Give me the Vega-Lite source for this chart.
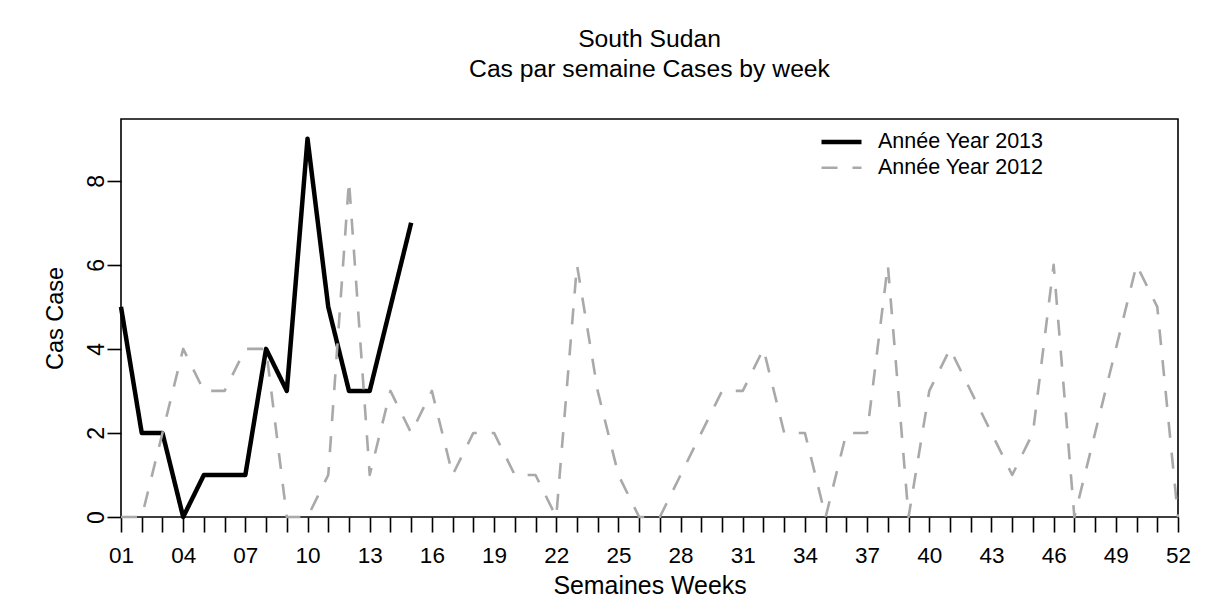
{
  "$schema": "https://vega.github.io/schema/vega-lite/v6.json",
  "autosize": "none",
  "width": 1057,
  "height": 398,
  "padding": {"left": 121, "top": 119, "right": 29, "bottom": 85},
  "background": "white",
  "title": {
    "text": ["South Sudan", "Cas par semaine Cases by week"],
    "font": "Liberation Sans",
    "fontSize": 24.7,
    "fontWeight": "normal",
    "color": "#000000",
    "lineHeight": 30,
    "anchor": "middle",
    "frame": "group",
    "baseline": "bottom",
    "offset": 12
  },
  "config": {
    "view": {"stroke": "#000000", "strokeWidth": 1.6},
    "font": "Liberation Sans"
  },
  "data": {
    "values": [
      {"week": 1, "cases": 5, "series": "Année Year 2013"},
      {"week": 2, "cases": 2, "series": "Année Year 2013"},
      {"week": 3, "cases": 2, "series": "Année Year 2013"},
      {"week": 4, "cases": 0, "series": "Année Year 2013"},
      {"week": 5, "cases": 1, "series": "Année Year 2013"},
      {"week": 6, "cases": 1, "series": "Année Year 2013"},
      {"week": 7, "cases": 1, "series": "Année Year 2013"},
      {"week": 8, "cases": 4, "series": "Année Year 2013"},
      {"week": 9, "cases": 3, "series": "Année Year 2013"},
      {"week": 10, "cases": 9, "series": "Année Year 2013"},
      {"week": 11, "cases": 5, "series": "Année Year 2013"},
      {"week": 12, "cases": 3, "series": "Année Year 2013"},
      {"week": 13, "cases": 3, "series": "Année Year 2013"},
      {"week": 14, "cases": 5, "series": "Année Year 2013"},
      {"week": 15, "cases": 7, "series": "Année Year 2013"},
      {"week": 1, "cases": 0, "series": "Année Year 2012"},
      {"week": 2, "cases": 0, "series": "Année Year 2012"},
      {"week": 3, "cases": 2, "series": "Année Year 2012"},
      {"week": 4, "cases": 4, "series": "Année Year 2012"},
      {"week": 5, "cases": 3, "series": "Année Year 2012"},
      {"week": 6, "cases": 3, "series": "Année Year 2012"},
      {"week": 7, "cases": 4, "series": "Année Year 2012"},
      {"week": 8, "cases": 4, "series": "Année Year 2012"},
      {"week": 9, "cases": 0, "series": "Année Year 2012"},
      {"week": 10, "cases": 0, "series": "Année Year 2012"},
      {"week": 11, "cases": 1, "series": "Année Year 2012"},
      {"week": 12, "cases": 8, "series": "Année Year 2012"},
      {"week": 13, "cases": 1, "series": "Année Year 2012"},
      {"week": 14, "cases": 3, "series": "Année Year 2012"},
      {"week": 15, "cases": 2, "series": "Année Year 2012"},
      {"week": 16, "cases": 3, "series": "Année Year 2012"},
      {"week": 17, "cases": 1, "series": "Année Year 2012"},
      {"week": 18, "cases": 2, "series": "Année Year 2012"},
      {"week": 19, "cases": 2, "series": "Année Year 2012"},
      {"week": 20, "cases": 1, "series": "Année Year 2012"},
      {"week": 21, "cases": 1, "series": "Année Year 2012"},
      {"week": 22, "cases": 0, "series": "Année Year 2012"},
      {"week": 23, "cases": 6, "series": "Année Year 2012"},
      {"week": 24, "cases": 3, "series": "Année Year 2012"},
      {"week": 25, "cases": 1, "series": "Année Year 2012"},
      {"week": 26, "cases": 0, "series": "Année Year 2012"},
      {"week": 27, "cases": 0, "series": "Année Year 2012"},
      {"week": 28, "cases": 1, "series": "Année Year 2012"},
      {"week": 29, "cases": 2, "series": "Année Year 2012"},
      {"week": 30, "cases": 3, "series": "Année Year 2012"},
      {"week": 31, "cases": 3, "series": "Année Year 2012"},
      {"week": 32, "cases": 4, "series": "Année Year 2012"},
      {"week": 33, "cases": 2, "series": "Année Year 2012"},
      {"week": 34, "cases": 2, "series": "Année Year 2012"},
      {"week": 35, "cases": 0, "series": "Année Year 2012"},
      {"week": 36, "cases": 2, "series": "Année Year 2012"},
      {"week": 37, "cases": 2, "series": "Année Year 2012"},
      {"week": 38, "cases": 6, "series": "Année Year 2012"},
      {"week": 39, "cases": 0, "series": "Année Year 2012"},
      {"week": 40, "cases": 3, "series": "Année Year 2012"},
      {"week": 41, "cases": 4, "series": "Année Year 2012"},
      {"week": 42, "cases": 3, "series": "Année Year 2012"},
      {"week": 43, "cases": 2, "series": "Année Year 2012"},
      {"week": 44, "cases": 1, "series": "Année Year 2012"},
      {"week": 45, "cases": 2, "series": "Année Year 2012"},
      {"week": 46, "cases": 6, "series": "Année Year 2012"},
      {"week": 47, "cases": 0, "series": "Année Year 2012"},
      {"week": 48, "cases": 2, "series": "Année Year 2012"},
      {"week": 49, "cases": 4, "series": "Année Year 2012"},
      {"week": 50, "cases": 6, "series": "Année Year 2012"},
      {"week": 51, "cases": 5, "series": "Année Year 2012"},
      {"week": 52, "cases": 0, "series": "Année Year 2012"}
    ]
  },
  "mark": {"type": "line", "strokeJoin": "round", "strokeCap": "butt"},
  "encoding": {
    "x": {
      "field": "week",
      "type": "quantitative",
      "scale": {"domain": [1, 52], "nice": false, "zero": false},
      "axis": {
        "values": [1,2,3,4,5,6,7,8,9,10,11,12,13,14,15,16,17,18,19,20,21,22,23,24,25,26,27,28,29,30,31,32,33,34,35,36,37,38,39,40,41,42,43,44,45,46,47,48,49,50,51,52],
        "labelExpr": "(datum.value - 1) % 3 == 0 ? (datum.value < 10 ? '0' + datum.value : '' + datum.value) : ''",
        "labelOverlap": false,
        "labelFlush": false,
        "labelBound": false,
        "grid": false,
        "domain": false,
        "tickSize": 15,
        "tickWidth": 1.6,
        "tickColor": "#000000",
        "labelFont": "Liberation Sans",
        "labelFontSize": 22.5,
        "labelColor": "#000000",
        "labelPadding": 12,
        "title": "Semaines Weeks",
        "titleFont": "Liberation Sans",
        "titleFontSize": 24.9,
        "titleFontWeight": "normal",
        "titleColor": "#000000",
        "titlePadding": 7
      }
    },
    "y": {
      "field": "cases",
      "type": "quantitative",
      "scale": {"domain": [0, 9.47], "nice": false, "zero": true},
      "axis": {
        "values": [0, 2, 4, 6, 8],
        "grid": false,
        "domain": false,
        "tickSize": 14,
        "tickWidth": 1.6,
        "tickColor": "#000000",
        "labelAngle": -90,
        "labelAlign": "center",
        "labelBaseline": "alphabetic",
        "labelFont": "Liberation Sans",
        "labelFontSize": 23,
        "labelColor": "#000000",
        "labelPadding": 4,
        "title": "Cas Case",
        "titleFont": "Liberation Sans",
        "titleFontSize": 23.5,
        "titleFontWeight": "normal",
        "titleColor": "#000000",
        "titlePadding": 18
      }
    },
    "color": {
      "field": "series",
      "type": "nominal",
      "scale": {"domain": ["Année Year 2013", "Année Year 2012"], "range": ["#000000", "#a9a9a9"]},
      "legend": {
        "title": null,
        "orient": "none",
        "legendX": 708,
        "legendY": 10.5,
        "padding": 0,
        "symbolType": "M-2,0H2",
        "symbolSize": 400,
        "labelFont": "Liberation Sans",
        "labelFontSize": 21.5,
        "labelColor": "#000000",
        "labelOffset": 24,
        "labelLimit": 400,
        "rowPadding": 3.7
      }
    },
    "strokeDash": {
      "field": "series",
      "type": "nominal",
      "scale": {"domain": ["Année Year 2013", "Année Year 2012"], "range": [[1, 0], [16, 15]]},
      "legend": {
        "title": null,
        "orient": "none",
        "legendX": 708,
        "legendY": 10.5,
        "padding": 0,
        "symbolType": "M-2,0H2",
        "symbolSize": 400,
        "labelFont": "Liberation Sans",
        "labelFontSize": 21.5,
        "labelColor": "#000000",
        "labelOffset": 24,
        "labelLimit": 400,
        "rowPadding": 3.7
      }
    },
    "strokeWidth": {
      "field": "series",
      "type": "nominal",
      "scale": {"domain": ["Année Year 2013", "Année Year 2012"], "range": [4.5, 2.6]},
      "legend": {
        "title": null,
        "orient": "none",
        "legendX": 708,
        "legendY": 10.5,
        "padding": 0,
        "symbolType": "M-2,0H2",
        "symbolSize": 400,
        "labelFont": "Liberation Sans",
        "labelFontSize": 21.5,
        "labelColor": "#000000",
        "labelOffset": 24,
        "labelLimit": 400,
        "rowPadding": 3.7
      }
    }
  }
}
